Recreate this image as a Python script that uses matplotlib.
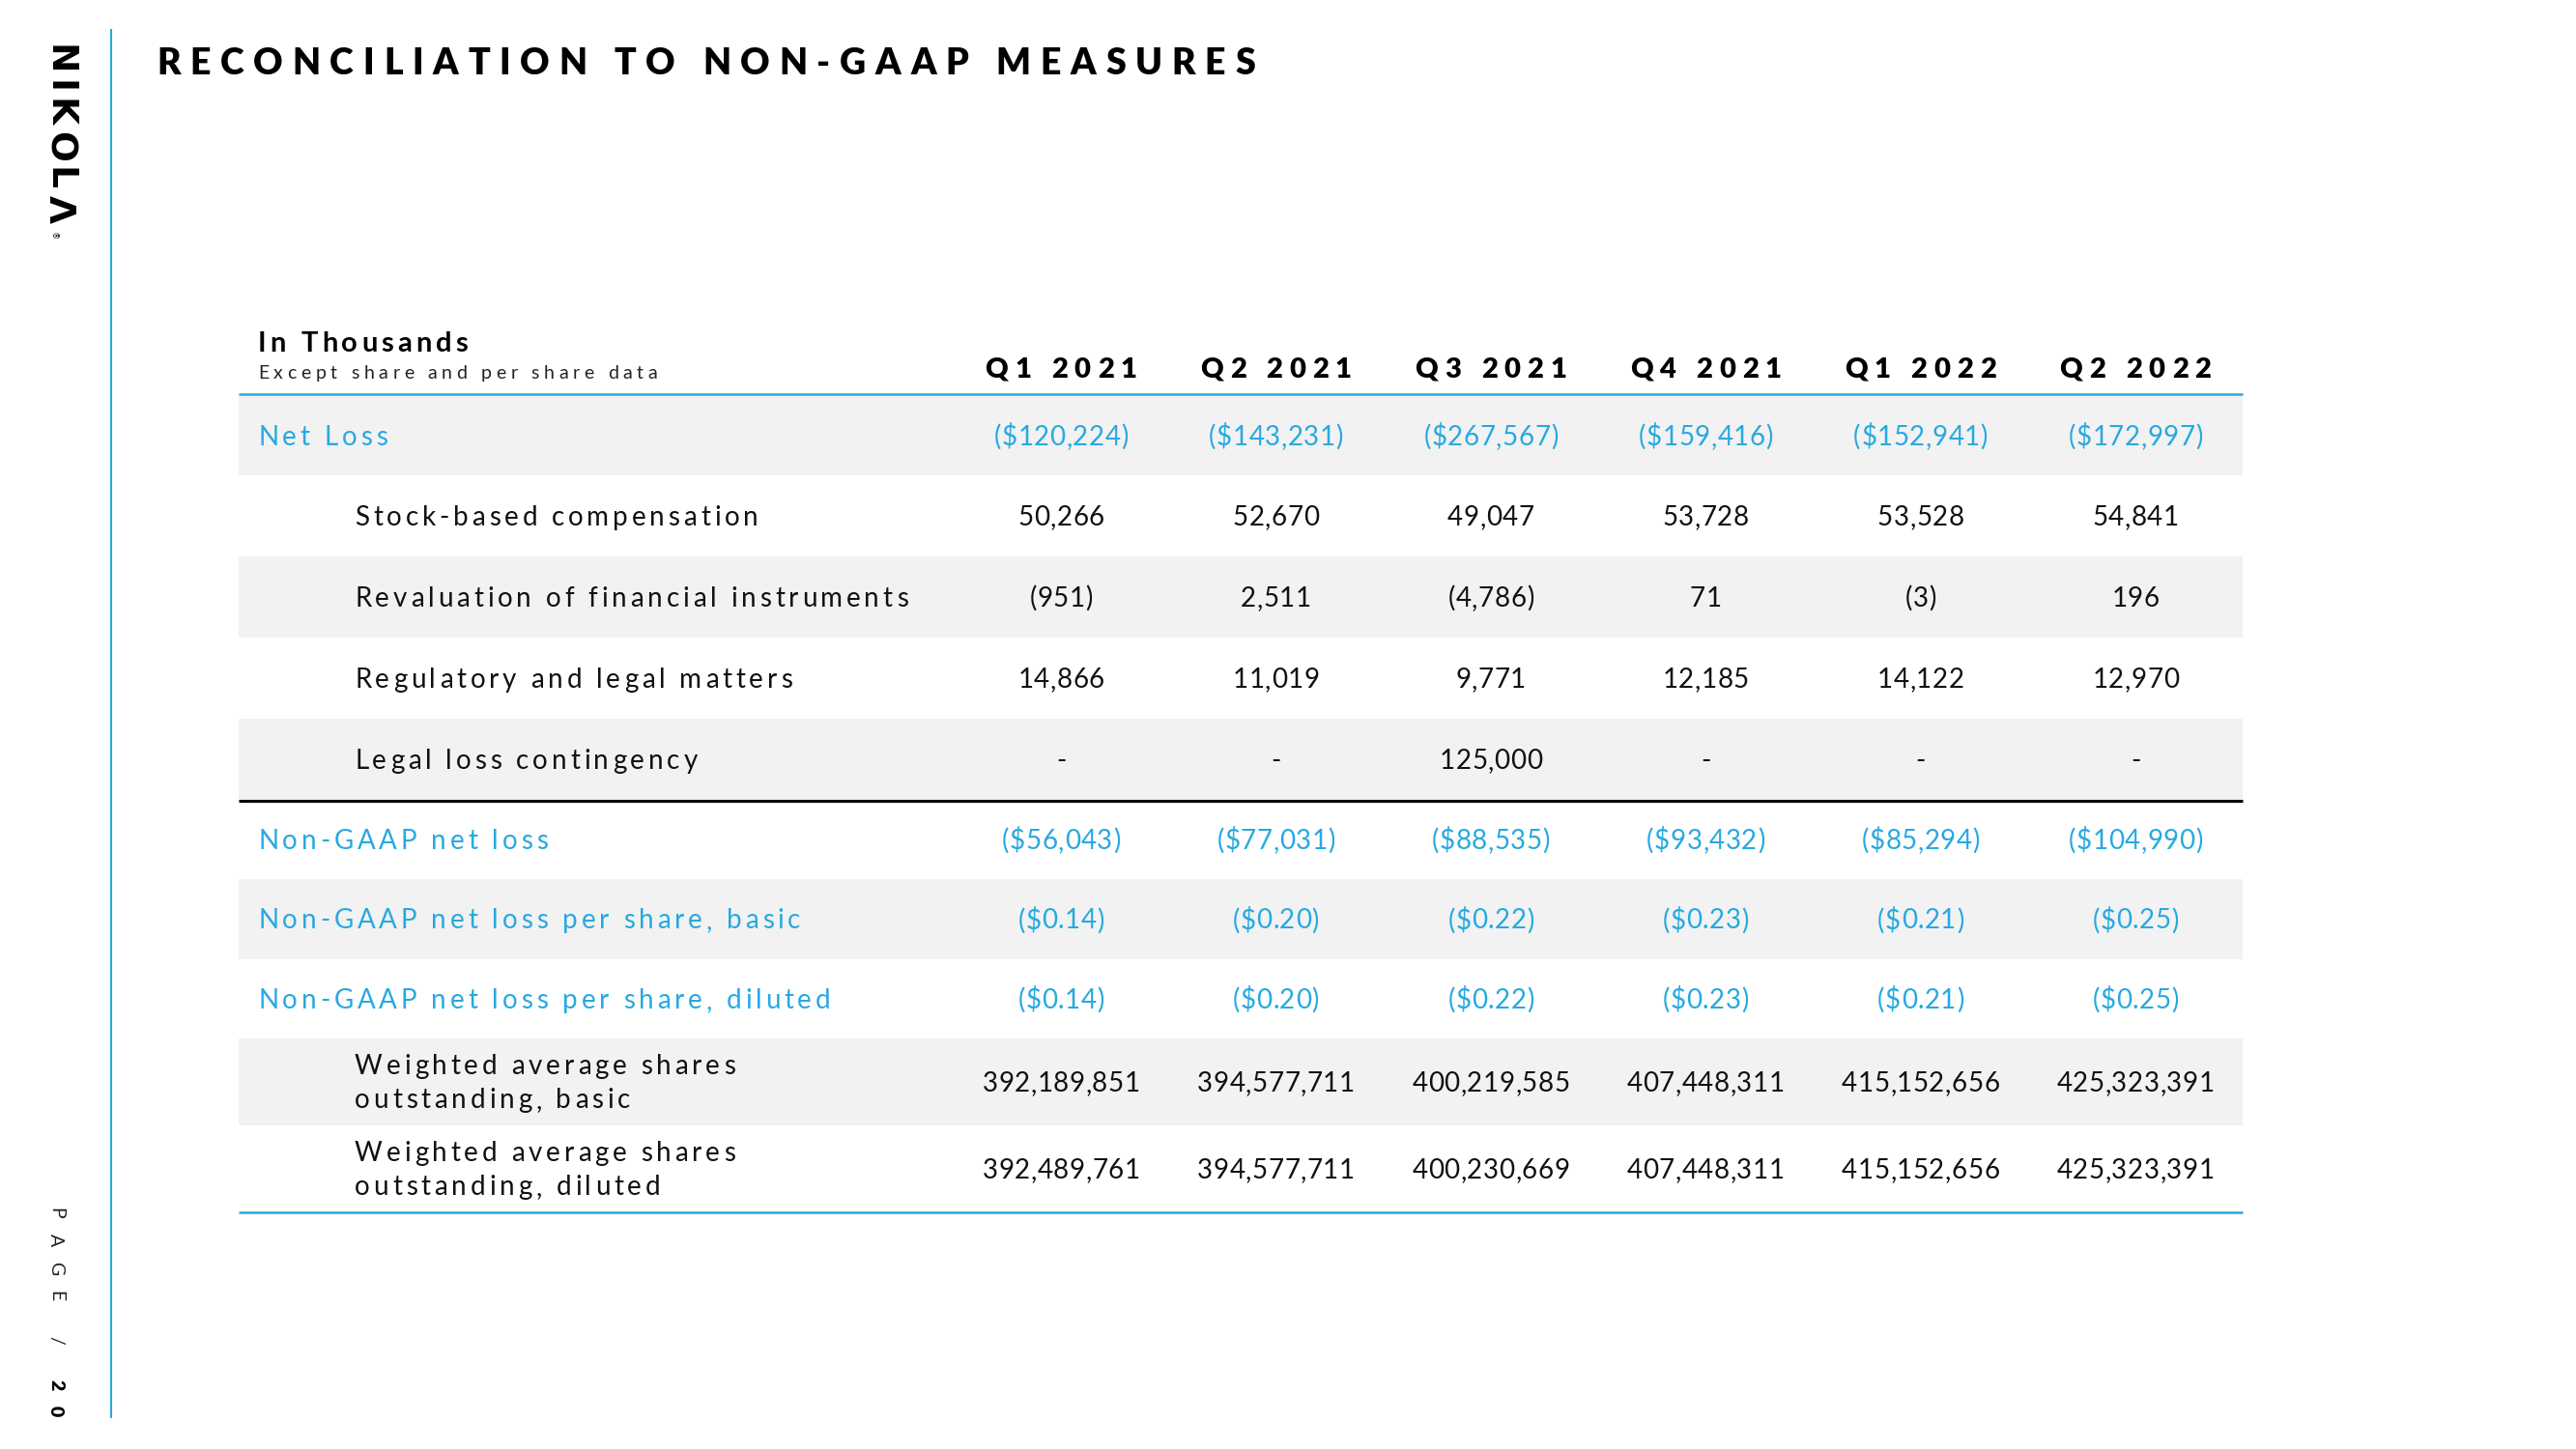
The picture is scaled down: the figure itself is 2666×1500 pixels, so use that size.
import matplotlib
matplotlib.use('Agg')
import matplotlib.pyplot as plt
from matplotlib.patches import Rectangle
from matplotlib.font_manager import FontProperties, findfont
from matplotlib.ft2font import FT2Font

W, H = 2666, 1500
BLUE = '#27A9E1'
GRAY = '#F2F2F2'
INK = '#111111'
FONT = 'Lato'

# ---- data ----
quarters = ['Q1 2021', 'Q2 2021', 'Q3 2021', 'Q4 2021', 'Q1 2022', 'Q2 2022']

net_loss = [-120224, -143231, -267567, -159416, -152941, -172997]
stock_comp = [50266, 52670, 49047, 53728, 53528, 54841]
revaluation = [-951, 2511, -4786, 71, -3, 196]
regulatory = [14866, 11019, 9771, 12185, 14122, 12970]
legal_contingency = [None, None, 125000, None, None, None]
non_gaap_net_loss = [-56043, -77031, -88535, -93432, -85294, -104990]
eps_basic = [-0.14, -0.20, -0.22, -0.23, -0.21, -0.25]
eps_diluted = [-0.14, -0.20, -0.22, -0.23, -0.21, -0.25]
shares_basic = [392189851, 394577711, 400219585, 407448311, 415152656, 425323391]
shares_diluted = [392489761, 394577711, 400230669, 407448311, 415152656, 425323391]

# (label lines, values, format, highlighted)
rows = [
    (['Net Loss'], net_loss, 'dollar', True),
    (['Stock-based compensation'], stock_comp, 'plain', False),
    (['Revaluation of financial instruments'], revaluation, 'plain', False),
    (['Regulatory and legal matters'], regulatory, 'plain', False),
    (['Legal loss contingency'], legal_contingency, 'plain', False),
    (['Non-GAAP net loss'], non_gaap_net_loss, 'dollar', True),
    (['Non-GAAP net loss per share, basic'], eps_basic, 'eps', True),
    (['Non-GAAP net loss per share, diluted'], eps_diluted, 'eps', True),
    (['Weighted average shares', 'outstanding, basic'], shares_basic, 'plain', False),
    (['Weighted average shares', 'outstanding, diluted'], shares_diluted, 'plain', False),
]
row_heights = [82, 84, 84, 84, 84, 82, 83, 82, 90, 90]


def fmt(v, kind):
    if v is None or v == 0:
        return '-'
    if kind == 'dollar':
        s = '${:,.0f}'.format(abs(v))
    elif kind == 'eps':
        s = '${:.2f}'.format(abs(v))
    else:
        s = '{:,.0f}'.format(abs(v))
    return '({})'.format(s) if v < 0 else s


_fonts = {}


def get_font(family, weight):
    key = (family, weight)
    if key not in _fonts:
        _fonts[key] = FT2Font(findfont(FontProperties(family=family, weight=weight)))
    return _fonts[key]


def tracked(ax, x, y, s, size, track=0.0, weight='normal', color=INK,
            ha='left', family=FONT, vertical=False):
    # draws text char by char with letter spacing (track in em)
    font = get_font(family, weight)
    font.set_size(size, 100)
    adv = [font.load_char(ord(c)).linearHoriAdvance / 65536 for c in s]
    gap = track * size * 100 / 72
    total = sum(adv) + gap * (len(s) - 1)
    pos = {'left': 0, 'center': -total / 2, 'right': -total}[ha]
    pos += y if vertical else x
    for c, a in zip(s, adv):
        if vertical:
            ax.text(x, pos, c, fontsize=size, family=family, weight=weight,
                    color=color, rotation=-90, rotation_mode='anchor',
                    ha='left', va='baseline')
        else:
            ax.text(pos, y, c, fontsize=size, family=family, weight=weight,
                    color=color, ha='left', va='baseline')
        pos += a + gap
    return pos


fig = plt.figure(figsize=(W / 100, H / 100), dpi=100)
ax = fig.add_axes([0, 0, 1, 1])
ax.set_xlim(0, W)
ax.set_ylim(H, 0)
ax.axis('off')

# side bar, logo, page number
ax.plot([115, 115], [30, 1468], color=BLUE, lw=1.5, solid_capstyle='butt')
end = tracked(ax, 51, 46, 'NIKOLΛ', 27, track=0.14, weight='bold',
              family='DejaVu Sans', color='black', vertical=True)
ax.text(53, end + 3, '®', fontsize=6, color='black', rotation=-90,
        rotation_mode='anchor', ha='left', va='baseline')
end = tracked(ax, 52, 1250, 'PAGE / ', 14, track=0.8, weight='normal',
              color='#222222', vertical=True)
tracked(ax, 52, end, '20', 14, track=0.8, weight='heavy', color='black',
        vertical=True)

# title
tracked(ax, 162, 77, 'RECONCILIATION TO NON-GAAP MEASURES', 27, track=0.26,
        weight='heavy', color='black')

# table header
x0, x1 = 247, 2321
col_x = [1098 + 222.4 * i for i in range(len(quarters))]
tracked(ax, 267, 364, 'In Thousands', 21, track=0.14, weight='bold', color='black')
tracked(ax, 267, 392, 'Except share and per share data', 14, track=0.24, color='#222222')
for cx, q in zip(col_x, quarters):
    tracked(ax, cx, 391, q, 21, track=0.24, weight='heavy', color='black', ha='center')

ax.plot([x0, x1], [408, 408], color=BLUE, lw=1.8, solid_capstyle='butt')

# body
top = 410
cap = 0.717 * 20 * 100 / 72
for i, ((lines, vals, kind, hi), h) in enumerate(zip(rows, row_heights)):
    if i % 2 == 0:
        ax.add_patch(Rectangle((x0, top), x1 - x0, h, color=GRAY, lw=0, zorder=0))
    mid = top + h / 2
    color = BLUE if hi else INK
    lx = 267 if hi else 367
    n = len(lines)
    for j, line in enumerate(lines):
        ly = mid + (j - (n - 1) / 2) * 35 + cap / 2
        tracked(ax, lx, ly, line, 20, track=0.14, color=color)
    for cx, v in zip(col_x, vals):
        tracked(ax, cx, mid + cap / 2, fmt(v, kind), 20, track=0.02,
                color=color, ha='center')
    top += h
    if i == 4:
        ax.plot([x0, x1], [top + 1, top + 1], color='black', lw=2.2,
                solid_capstyle='butt')

ax.plot([x0, x1], [top, top], color=BLUE, lw=1.8, solid_capstyle='butt')

fig.savefig('out.png', dpi=100)
